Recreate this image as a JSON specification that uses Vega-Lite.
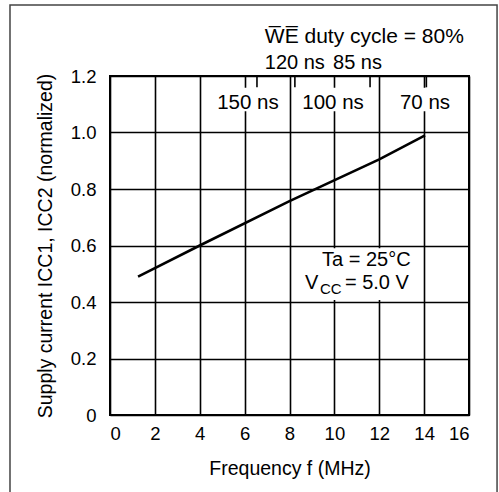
{
  "$schema": "https://vega.github.io/schema/vega-lite/v6.json",
  "width": 359,
  "height": 339,
  "autosize": {"type": "none"},
  "padding": {"left": 110, "top": 76, "right": 30, "bottom": 77},
  "background": "white",
  "config": {
    "font": "Liberation Sans",
    "view": {"stroke": "black", "strokeWidth": 2},
    "axis": {
      "grid": true, "gridColor": "black", "gridWidth": 1.6, "gridOpacity": 1,
      "domain": false, "ticks": false,
      "labelColor": "black", "labelFont": "Liberation Sans", "labelFontSize": 18.5,
      "titleFont": "Liberation Sans", "titleFontSize": 19.5, "titleFontWeight": "normal", "titleColor": "black"
    }
  },
  "datasets": {
    "frame": [{"f": -4.457, "f2": 17.25, "v": 1.451, "v2": -0.3}],
    "masks": [
      {"f": 4.8, "f2": 7.5, "v": 1.075, "v2": 1.158},
      {"f": 8.5, "f2": 11.4, "v": 1.075, "v2": 1.158},
      {"f": 12.7, "f2": 15.4, "v": 1.075, "v2": 1.158},
      {"f": 8.6, "f2": 13.6, "v": 0.407, "v2": 0.59}
    ],
    "ticks": [
      {"f": 6.55, "v": 1.2, "v2": 1.16},
      {"f": 8.24, "v": 1.2, "v2": 1.16},
      {"f": 11.59, "v": 1.2, "v2": 1.16},
      {"f": 14.1, "v": 1.2, "v2": 1.16}
    ],
    "curve": [
      {"f": 1.25, "v": 0.49},
      {"f": 4, "v": 0.6},
      {"f": 8, "v": 0.757},
      {"f": 12, "v": 0.905},
      {"f": 14.04, "v": 0.99}
    ],
    "toplabels": [
      {"f": 6.9, "v": 1.338, "label": "W̅E̅ duty cycle = 80%"}
    ],
    "toplabels2": [
      {"f": 6.9, "v": 1.246, "label": "120 ns"},
      {"f": 9.94, "v": 1.246, "label": "85 ns"}
    ],
    "nslabels": [
      {"f": 6.15, "v": 1.104, "label": "150 ns"},
      {"f": 9.94, "v": 1.104, "label": "100 ns"},
      {"f": 14.04, "v": 1.104, "label": "70 ns"}
    ],
    "cond": [
      {"f": 9.45, "v": 0.549, "label": "Ta = 25°C"},
      {"f": 8.69, "v": 0.467, "label": "V"},
      {"f": 10.47, "v": 0.467, "label": "= 5.0 V"}
    ],
    "sub": [{"f": 9.36, "v": 0.467, "label": "CC"}]
  },
  "encoding": {
    "x": {
      "field": "f", "type": "quantitative",
      "scale": {"domain": [0, 16], "nice": false, "zero": false},
      "axis": {"values": [0, 2, 4, 6, 8, 10, 12, 14, 16], "title": "Frequency f (MHz)", "labelPadding": 9, "titleY": 59, "titleBaseline": "alphabetic"}
    },
    "y": {
      "field": "v", "type": "quantitative",
      "scale": {"domain": [0, 1.2], "nice": false, "zero": false},
      "axis": {
        "values": [0, 0.2, 0.4, 0.6, 0.8, 1.0, 1.2],
        "labelExpr": "datum.value == 0 ? '0' : format(datum.value, '.1f')",
        "labelPadding": 14,
        "title": "Supply current ICC1, ICC2 (normalized)",
        "titleAngle": 270, "titleX": -65, "titleY": 169.5, "titleAlign": "center", "titleBaseline": "middle"
      }
    }
  },
  "layer": [
    {"data": {"name": "frame"}, "mark": {"type": "rect", "fill": null, "stroke": "#444", "strokeWidth": 1.5}, "encoding": {"x2": {"field": "f2"}, "y2": {"field": "v2"}}},
    {"data": {"name": "masks"}, "mark": {"type": "rect", "fill": "white", "stroke": null}, "encoding": {"x2": {"field": "f2"}, "y2": {"field": "v2"}}},
    {"data": {"name": "ticks"}, "mark": {"type": "rule", "color": "black", "strokeWidth": 1.6}, "encoding": {"y2": {"field": "v2"}}},
    {"data": {"name": "curve"}, "mark": {"type": "line", "color": "black", "strokeWidth": 2.6}, "encoding": {}},
    {"data": {"name": "toplabels"}, "mark": {"type": "text", "align": "left", "baseline": "middle", "fontSize": 21, "color": "black"}, "encoding": {"text": {"field": "label"}}},
    {"data": {"name": "toplabels2"}, "mark": {"type": "text", "align": "left", "baseline": "middle", "fontSize": 20, "color": "black"}, "encoding": {"text": {"field": "label"}}},
    {"data": {"name": "nslabels"}, "mark": {"type": "text", "align": "center", "baseline": "middle", "fontSize": 20.5, "color": "black"}, "encoding": {"text": {"field": "label"}}},
    {"data": {"name": "cond"}, "mark": {"type": "text", "align": "left", "baseline": "middle", "fontSize": 20, "color": "black"}, "encoding": {"text": {"field": "label"}}},
    {"data": {"name": "sub"}, "mark": {"type": "text", "align": "left", "baseline": "middle", "fontSize": 15, "dy": 6, "color": "black"}, "encoding": {"text": {"field": "label"}}}
  ]
}
